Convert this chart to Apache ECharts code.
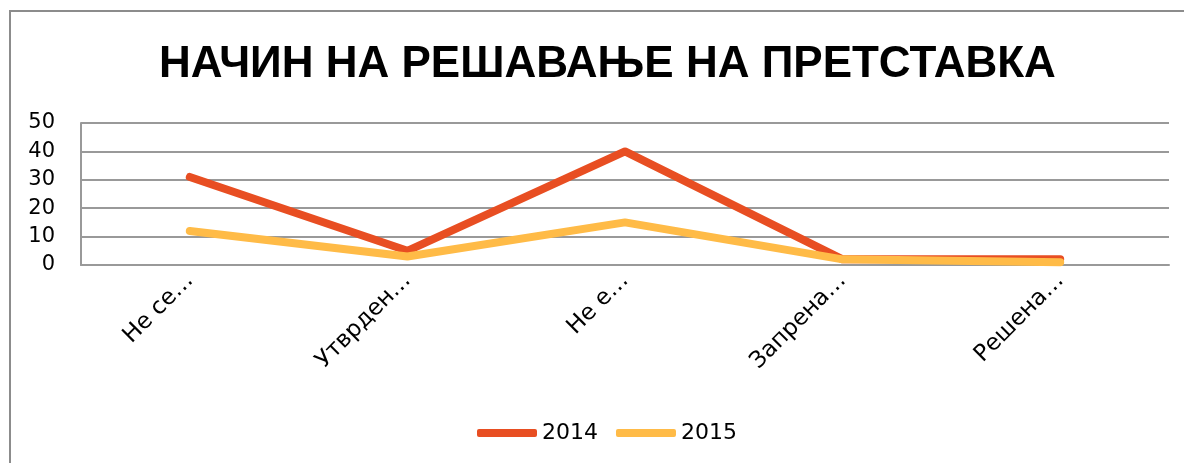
<!DOCTYPE html>
<html>
<head>
<meta charset="utf-8">
<script src="https://cdn.jsdelivr.net/npm/echarts@6/dist/echarts.min.js"></script>
<style>
  html, body { margin: 0; padding: 0; background: #fff; }
  #chart { width: 1184px; height: 463px; }
</style>
</head>
<body>
<div id="chart"></div>
<script>
const titleText = 'НАЧИН НА РЕШАВАЊЕ НА ПРЕТСТАВКА';
const categories = ['Не се…', 'Утврден…', 'Не е…', 'Запрена…', 'Решена…'];
const values2014 = [31, 5, 40, 2, 2];
const values2015 = [12, 3, 15, 2, 1];
const yTicks = { min: 0, max: 50, interval: 10 };

const font = '"DejaVu Sans", sans-serif';

const chart = echarts.init(document.getElementById('chart'));

const lineSeries = (name, data, color) => ({
    name,
    type: 'line',
    data,
    symbol: 'none',
    smooth: false,
    lineStyle: { width: 8, color, cap: 'round', join: 'round' },
    itemStyle: { color }
});

chart.setOption({
    animation: false,
    graphic: [{
        type: 'rect',
        shape: { x: 10, y: 11, width: 1300, height: 600 },
        style: { fill: 'none', stroke: '#8c8c8c', lineWidth: 2 },
        silent: true
    }],
    title: {
        text: titleText,
        left: 154,
        top: 38,
        textStyle: {
            fontFamily: '"Liberation Sans", Arial, sans-serif',
            fontWeight: 900,
            fontSize: 44,
            color: '#000'
        }
    },
    grid: { left: 81, right: 15, top: 123, bottom: 198, containLabel: false },
    xAxis: {
        type: 'category',
        data: categories,
        boundaryGap: true,
        axisLine: { show: true, lineStyle: { color: '#999', width: 2 } },
        axisTick: { show: false },
        axisLabel: {
            rotate: 45,
            margin: 12,
            fontFamily: font,
            fontSize: 23,
            color: '#000',
            interval: 0
        }
    },
    yAxis: {
        type: 'value',
        min: yTicks.min,
        max: yTicks.max,
        interval: yTicks.interval,
        axisLine: { show: true, lineStyle: { color: '#999', width: 2 } },
        axisTick: { show: false },
        splitLine: { lineStyle: { color: '#999', width: 2 } },
        axisLabel: {
            margin: 26,
            fontFamily: font,
            fontSize: 21,
            color: '#000'
        }
    },
    legend: {
        bottom: 14,
        left: 472,
        itemWidth: 60,
        itemHeight: 8,
        itemGap: 18,
        icon: 'roundRect',
        textStyle: { fontFamily: font, fontSize: 22, color: '#000' },
        data: ['2014', '2015']
    },
    series: [
        lineSeries('2014', values2014, '#e84e22'),
        lineSeries('2015', values2015, '#ffbb47')
    ]
});
</script>
</body>
</html>
